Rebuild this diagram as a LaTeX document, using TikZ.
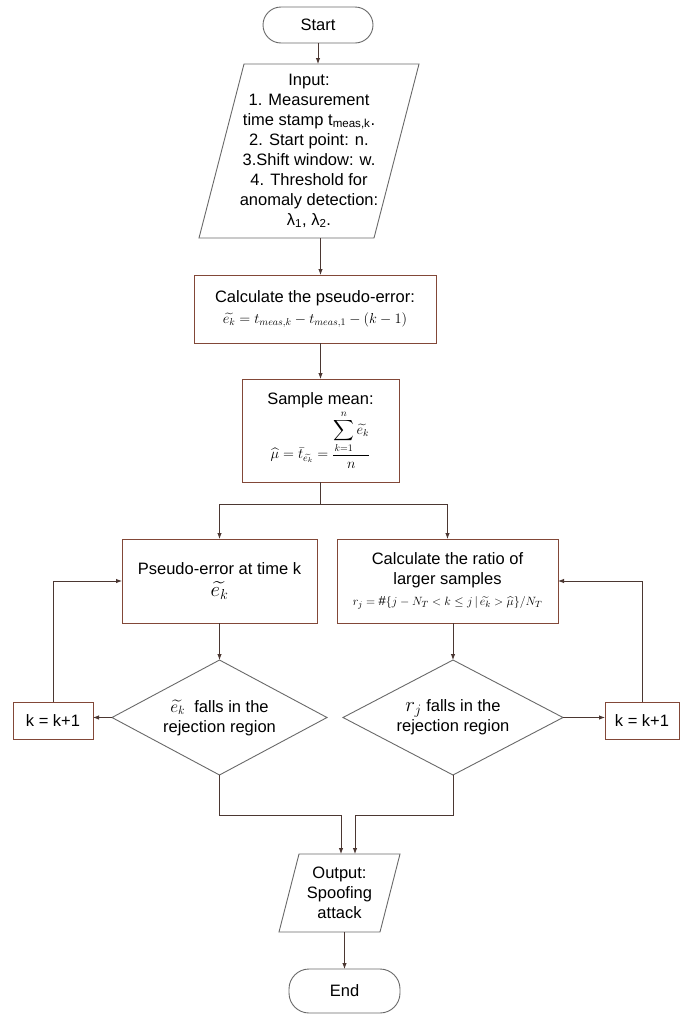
\documentclass[tikz,border=0pt]{standalone}
\usepackage{amsmath}
\usepackage{fontspec}
\setmainfont{Liberation Sans}
\usetikzlibrary{arrows.meta,calc}
\definecolor{boxc}{RGB}{130,72,56}
\definecolor{shapec}{RGB}{105,105,105}
\definecolor{linec}{RGB}{75,55,50}
\begin{document}
\begin{tikzpicture}[x=1pt,y=-1pt,
  base/.style={inner sep=0pt,outer sep=0pt,align=center,font=\fontsize{16.5}{20}\selectfont},
  procbox/.style={base,draw=boxc,line width=0.9pt},
  term/.style={base,draw=shapec,line width=0.9pt,rounded corners=18pt},
  ghost/.style={base},
  outline/.style={draw=shapec,line width=0.9pt},
  conn/.style={draw=linec,line width=0.9pt,-{Latex[length=6pt,width=4.5pt]}},
  plain/.style={draw=linec,line width=0.9pt}]

\fill[white] (0,0) rectangle (685,1015);
\useasboundingbox (0,0) rectangle (685,1015);

% terminals and shapes
\node[term,minimum width=110pt,minimum height=36pt] (start) at (318,25) {Start};

\node[ghost,minimum width=220pt,minimum height=174pt] (input) at (309,151)
  {Input:\\1. Measurement\\time stamp t\textsubscript{meas,k}.\\2. Start point: n.\\3.Shift window: w.\\4. Threshold for\\anomaly detection:\\λ\textsubscript{1}, λ\textsubscript{2}.};
\draw[outline] ($(input.north west)+(45,0)$) -- (input.north east)
  -- ($(input.south east)+(-45,0)$) -- (input.south west) -- cycle;

\node[procbox,minimum width=242pt,minimum height=68pt] (pe) at (315,309)
  {Calculate the pseudo-error:\\[1pt] {\fontsize{14}{16}\selectfont $\widetilde{e_k}=t_{meas,k}-t_{meas,1}-(k-1)$}};

\node[procbox,minimum width=157pt,minimum height=103pt] (sm) at (320.5,430.5)
  {Sample mean:\\[2pt] {\fontsize{14}{16}\selectfont $\widehat{\mu}=\bar{t}_{\widetilde{e_k}}=\dfrac{\displaystyle\sum_{k=1}^{n}\widetilde{e_k}}{n}$}};

\node[procbox,minimum width=195pt,minimum height=84pt] (lb) at (219.5,581)
  {Pseudo-error at time k\\[2pt] {\fontsize{22}{24}\selectfont $\widetilde{e_k}$}};

\node[procbox,minimum width=221pt,minimum height=84pt] (rb) at (447.5,581)
  {Calculate the ratio of\\larger samples\\[1pt] {\fontsize{13}{15}\selectfont $r_j=\#\{j-N_T<k\le j\,|\,\widetilde{e_k}>\widehat{\mu}\}/N_T$}};

\node[ghost,minimum width=215pt,minimum height=115pt] (ld) at (219.5,717.5)
  {$\widetilde{e_k}$\ \ falls in the\\rejection region};
\draw[outline] (ld.north) -- (ld.east) -- (ld.south) -- (ld.west) -- cycle;

\node[ghost,minimum width=220pt,minimum height=115pt] (rd) at (453,717.5)
  {{\fontsize{20}{20}\selectfont $r_j$}\ falls in the\\rejection region};
\draw[outline] (rd.north) -- (rd.east) -- (rd.south) -- (rd.west) -- cycle;

\node[procbox,minimum width=80pt,minimum height=37pt] (lk) at (53,720.5) {k = k+1};
\node[procbox,minimum width=74pt,minimum height=37pt] (rk) at (642,720.5) {k = k+1};

\node[ghost,minimum width=121pt,minimum height=78pt] (out) at (339.5,893)
  {Output:\\Spoofing\\attack};
\draw[outline] ($(out.north west)+(20,0)$) -- (out.north east)
  -- ($(out.south east)+(-20,0)$) -- (out.south west) -- cycle;

\node[term,minimum width=111pt,minimum height=44pt,rounded corners=20pt] (end) at (344.5,991) {End};

% connectors
\coordinate (split) at (320.5,504);
\coordinate (jl) at (341,815);
\coordinate (jr) at (355,815);

\draw[conn] (start.south) -- (start.south |- input.north);
\draw[conn] (input.south -| sm.north) -- (pe.north -| sm.north);
\draw[conn] (pe.south -| sm.north) -- (sm.north);
\draw[plain] (sm.south) -- (split);
\draw[conn] (split) -| (lb.north);
\draw[conn] (split) -| (rb.north);
\draw[conn] (lb.south) -- (ld.north);
\draw[conn] (rb.south -| rd.north) -- (rd.north);
\draw[conn] (ld.west) -- (ld.west -| lk.east);
\draw[conn] (rd.east) -- (rd.east -| rk.west);
\draw[conn] (lk.north) |- (lb.west);
\draw[conn] (rk.north) |- (rb.east);
\draw[conn] (ld.south) |- (jl) -- (jl |- out.north);
\draw[conn] (rd.south) |- (jr) -- (jr |- out.north);
\draw[conn] (out.south -| end.north) -- (end.north);
\end{tikzpicture}
\end{document}
